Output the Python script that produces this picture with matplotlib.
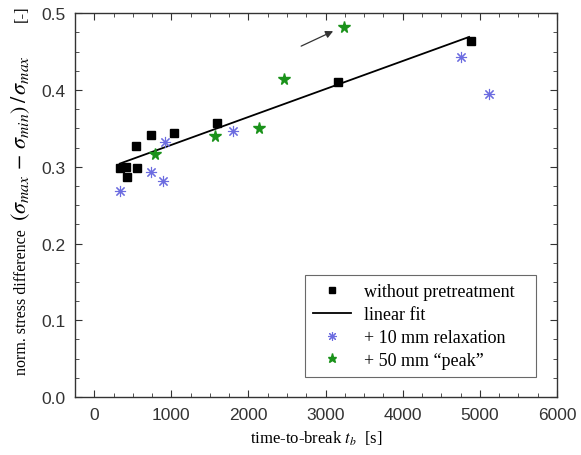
import numpy as np
import matplotlib.pyplot as plt
from matplotlib.ticker import MultipleLocator

# without pretreatment (black squares)
t_plain = [330, 411, 430, 537, 559, 740, 1033, 1594, 3156, 4883]
s_plain = [0.298, 0.300, 0.286, 0.327, 0.298, 0.341, 0.344, 0.357, 0.410, 0.464]

# + 10 mm relaxation (blue asterisks)
t_relax = [334, 740, 896, 913, 1797, 4753, 5120]
s_relax = [0.269, 0.293, 0.281, 0.332, 0.346, 0.443, 0.395]

# + 50 mm "peak" (green stars)
t_peak = [783, 1560, 2134, 2466, 3234]
s_peak = [0.317, 0.340, 0.351, 0.414, 0.482]

# linear fit end points
t_fit = [330, 4860]
s_fit = [0.304, 0.469]

# arrow pointing to the top star
arrow_from = (2650, 0.4555)
arrow_to = (3130, 0.478)

plt.rcParams['mathtext.fontset'] = 'stix'
plt.rcParams['font.family'] = 'Liberation Sans'

fig = plt.figure(figsize=(5.81, 4.56), dpi=100)
ax = fig.add_axes([0.129, 0.127, 0.8297, 0.842])

ax.plot(t_plain, s_plain, 's', color='black', markersize=6, label='without pretreatment   ', zorder=3)
ax.plot(t_fit, s_fit, '-', color='black', linewidth=1.3, label='linear fit', zorder=2)
ax.plot(t_relax, s_relax, linestyle='none', marker=(8, 2, 0), color='#6c6ce0', markersize=8,
        markeredgewidth=0.8, label='+ 10 mm relaxation', zorder=3)
ax.plot(t_peak, s_peak, '*', color='#1a921a', markersize=8.5, label='+ 50 mm \u201cpeak\u201d', zorder=3)

ax.annotate('', xy=arrow_to, xytext=arrow_from,
            arrowprops=dict(arrowstyle='-|>', color='#333333', lw=0.9, mutation_scale=11))

ax.set_xlim(-250, 6000)
ax.set_ylim(0, 0.5)
ax.xaxis.set_major_locator(MultipleLocator(1000))
ax.xaxis.set_minor_locator(MultipleLocator(250))
ax.yaxis.set_major_locator(MultipleLocator(0.1))
ax.yaxis.set_minor_locator(MultipleLocator(0.025))
ax.tick_params(which='both', direction='in', top=True, right=True, labelsize=12.5, colors='#333333')
ax.tick_params(which='major', length=5, pad=7)
ax.tick_params(which='minor', length=3)
ax.yaxis.set_major_formatter(plt.FuncFormatter(lambda v, p: f'{v:.1f}'))
for sp in ax.spines.values():
    sp.set_linewidth(1.0)
    sp.set_color('#333333')

serif = 'Liberation Serif'
ax.set_xlabel(r'time-to-break $t_b$  [s]', family=serif, fontsize=12, labelpad=5)

# y label in three pieces so the formula can be larger, as in the original
fig.text(0.038, 0.1776, 'norm. stress difference', rotation=90, ha='center', va='bottom',
         family=serif, fontsize=11.5)
fig.text(0.036, 0.515, r'$(\sigma_{max}\, - \,\sigma_{min})\,/\,\sigma_{max}$', rotation=90,
         ha='center', va='bottom', fontsize=16)
fig.text(0.038, 0.952, '[-]', rotation=90, ha='center', va='bottom', family=serif, fontsize=12)

leg = ax.legend(loc='lower right', bbox_to_anchor=(0.975, 0.029), prop={'family': serif, 'size': 13},
                frameon=True, fancybox=False, edgecolor='#444444', handlelength=2.1,
                labelspacing=0.32, borderpad=0.45, handletextpad=0.7, markerscale=0.8)
leg.get_frame().set_linewidth(0.8)

fig.savefig('out.png', dpi=100)
